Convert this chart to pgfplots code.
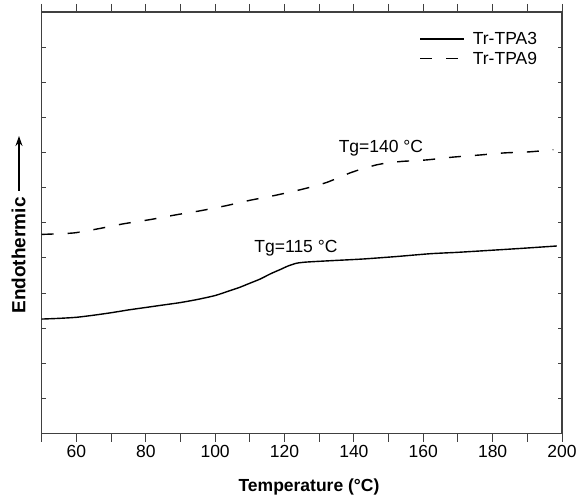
\documentclass[border=0pt]{standalone}
\usepackage{pgfplots}
\usepackage{pgfplotstable}
\pgfplotsset{compat=1.18}
\usetikzlibrary{arrows.meta}
\usepackage{fontspec}
\setmainfont{Liberation Sans}

\newcommand\fs{\fontsize{17.5}{20}\selectfont}

% Tr-TPA3 (solid)
\pgfplotstableread{
x y
50 3.26
55 3.28
60 3.31
65 3.37
70 3.44
75 3.52
80 3.59
85 3.66
90 3.73
95 3.82
100 3.93
104 4.06
107 4.16
110 4.28
113 4.40
116 4.55
119 4.68
121 4.77
123.5 4.85
126 4.88
129.3 4.90
135 4.93
142.7 4.97
152.3 5.04
162 5.12
170 5.16
178.3 5.21
188 5.27
198.5 5.34
}\tpathree

% Tr-TPA9 (dashed)
\pgfplotstableread{
x y
50 5.67
59.1 5.71
66.3 5.83
73.5 5.97
81.2 6.09
88.9 6.23
95.6 6.34
103.3 6.49
110 6.64
116.8 6.77
124.5 6.94
128.5 7.04
132.2 7.15
135.5 7.28
138.9 7.42
142.5 7.54
146.6 7.65
150 7.71
154.2 7.75
161 7.79
168.6 7.87
176.3 7.93
183.5 7.99
190.7 8.02
197.5 8.08
}\tpanine

\begin{document}
\begin{tikzpicture}
\begin{axis}[
    name=ax,
    scale only axis,
    width=520.3pt, height=421.6pt,
    xmin=50, xmax=200, ymin=0, ymax=12,
    xtick=\empty,
    extra x ticks={50,60,...,200},
    extra x tick labels={,60,,80,,100,,120,,140,,160,,180,,200},
    extra x tick style={major tick length=8pt, tick align=outside, tick pos=both},
    ytick={1,...,11},
    yticklabels={},
    ytick pos=both,
    ytick align=inside,
    major tick length=4.5pt,
    axis line style={black!75, line width=1.1pt},
    tick style={black!75, line width=0.9pt},
    ticklabel style={font=\fs},
    /pgf/number format/assume math mode=true,
    clip=false,
    legend style={draw=none, fill=none, font=\fs,
        at={(rel axis cs:0.962,0.962)}, anchor=north east,
        row sep=2pt},
    legend cell align=left,
    legend image code/.code={\draw[#1] (0pt,0pt) -- (44pt,0pt); \path (50pt,0pt);},
]
\addplot[black, line width=1.4pt, smooth, tension=0.4] table[x=x,y=y] {\tpathree};
\addlegendentry{Tr-TPA3}
\addplot[black, line width=1.4pt, smooth, tension=0.4, dash pattern=on 12pt off 14pt] table[x=x,y=y] {\tpanine};
\addlegendentry{Tr-TPA9}
\node[font=\fs] at (axis cs:147.8,8.11) {Tg=140 °C};
\node[font=\fs] at (axis cs:123.3,5.28) {Tg=115 °C};
\end{axis}
\node[font=\fs\bfseries] at ([shift={(267.3pt,-53.4pt)}]ax.south west) {Temperature (°C)};
\node[font=\fontsize{19}{22}\selectfont\bfseries, rotate=90] at ([shift={(-23.2pt,178.1pt)}]ax.south west) {Endothermic};
\draw[black, line width=1.2pt, -{Stealth[length=10pt,width=7pt]}] ([shift={(-22.7pt,242.6pt)}]ax.south west) -- ([shift={(-22.7pt,297.6pt)}]ax.south west);
\path (ax.south west) ++(-41.7pt,-62.4pt) coordinate (bbA);
\path (ax.north east) ++(17pt,12pt) coordinate (bbB);
\pgfresetboundingbox
\path (bbA) rectangle (bbB);
\end{tikzpicture}
\end{document}
